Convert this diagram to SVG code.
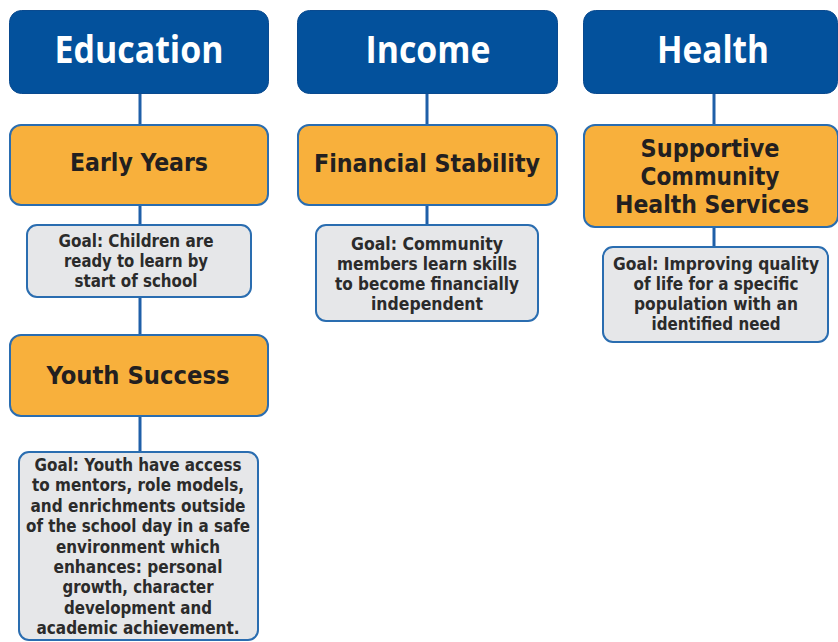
<svg xmlns="http://www.w3.org/2000/svg" width="838" height="642" viewBox="0 0 838 642">
<style>
.hdr{fill:#03519c;stroke:#0a4a8f;stroke-width:1}
.sub{fill:#f8b03c;stroke:#2a6db0;stroke-width:2}
.goal{fill:#e6e7e9;stroke:#2a6db0;stroke-width:2}
.ht{font-family:"Open Sans","Noto Sans",sans-serif;font-weight:700;font-size:37px;fill:#ffffff;text-anchor:middle}
.st{font-family:"DejaVu Sans Condensed","DejaVu Sans",sans-serif;font-weight:700;font-size:24px;fill:#231f20;text-anchor:middle}
.gt{font-family:"DejaVu Sans Condensed","DejaVu Sans",sans-serif;font-weight:700;font-size:17px;fill:#2b2b2b;text-anchor:middle}
.con line{stroke:#1f5fa8;stroke-width:3}
</style>
<rect width="838" height="642" fill="#ffffff"/>
<g id="connectors" class="con">
<line x1="140" y1="93" x2="140" y2="124"/>
<line x1="140" y1="205" x2="140" y2="225"/>
<line x1="140" y1="297" x2="140" y2="334"/>
<line x1="140" y1="416" x2="140" y2="452"/>
<line x1="427" y1="93" x2="427" y2="124"/>
<line x1="427" y1="205" x2="427" y2="225"/>
<line x1="714" y1="93" x2="714" y2="125"/>
<line x1="714" y1="227" x2="714" y2="247"/>
</g>
<g id="education">
<rect class="hdr" x="9.5" y="10.5" width="259" height="83" rx="12"/>
<text class="ht" x="139" y="63" textLength="169" lengthAdjust="spacingAndGlyphs">Education</text>
</g>
<g id="income">
<rect class="hdr" x="297.5" y="10.5" width="260" height="83" rx="12"/>
<text class="ht" x="428" y="63" textLength="125" lengthAdjust="spacingAndGlyphs">Income</text>
</g>
<g id="health">
<rect class="hdr" x="583.5" y="10.5" width="254" height="83" rx="12"/>
<text class="ht" x="713" y="63" textLength="112" lengthAdjust="spacingAndGlyphs">Health</text>
</g>
<g id="early-years">
<rect class="sub" x="10" y="125" width="258" height="80" rx="11"/>
<text class="st" x="139" y="171" textLength="138" lengthAdjust="spacingAndGlyphs">Early Years</text>
</g>
<g id="goal-early-years">
<rect class="goal" x="27" y="225" width="224" height="72" rx="10"/>
<text class="gt" x="136" y="247" textLength="155" lengthAdjust="spacingAndGlyphs">Goal: Children are</text>
<text class="gt" x="136" y="267" textLength="144" lengthAdjust="spacingAndGlyphs">ready to learn by</text>
<text class="gt" x="136" y="287" textLength="123" lengthAdjust="spacingAndGlyphs">start of school</text>
</g>
<g id="youth-success">
<rect class="sub" x="10" y="335" width="258" height="81" rx="11"/>
<text class="st" x="138" y="384" textLength="183" lengthAdjust="spacingAndGlyphs">Youth Success</text>
</g>
<g id="goal-youth-success">
<rect class="goal" x="19" y="452" width="239" height="188" rx="10"/>
<text class="gt" x="138" y="471" textLength="207" lengthAdjust="spacingAndGlyphs">Goal: Youth have access</text>
<text class="gt" x="138" y="491.4" textLength="212" lengthAdjust="spacingAndGlyphs">to mentors, role models,</text>
<text class="gt" x="138" y="511.8" textLength="215" lengthAdjust="spacingAndGlyphs">and enrichments outside</text>
<text class="gt" x="138" y="532.2" textLength="224" lengthAdjust="spacingAndGlyphs">of the school day in a safe</text>
<text class="gt" x="138" y="552.6" textLength="164" lengthAdjust="spacingAndGlyphs">environment which</text>
<text class="gt" x="138" y="573" textLength="169" lengthAdjust="spacingAndGlyphs">enhances: personal</text>
<text class="gt" x="138" y="593.4" textLength="151" lengthAdjust="spacingAndGlyphs">growth, character</text>
<text class="gt" x="138" y="613.8" textLength="148" lengthAdjust="spacingAndGlyphs">development and</text>
<text class="gt" x="138" y="634.2" textLength="203" lengthAdjust="spacingAndGlyphs">academic achievement.</text>
</g>
<g id="financial-stability">
<rect class="sub" x="298" y="125" width="259" height="80" rx="11"/>
<text class="st" x="427" y="172" textLength="226" lengthAdjust="spacingAndGlyphs">Financial Stability</text>
</g>
<g id="goal-financial-stability">
<rect class="goal" x="316" y="225" width="222" height="96" rx="10"/>
<text class="gt" x="427" y="250" textLength="152" lengthAdjust="spacingAndGlyphs">Goal:  Community</text>
<text class="gt" x="427" y="270" textLength="180" lengthAdjust="spacingAndGlyphs">members learn skills</text>
<text class="gt" x="427" y="290" textLength="184" lengthAdjust="spacingAndGlyphs">to become financially</text>
<text class="gt" x="427" y="310" textLength="112" lengthAdjust="spacingAndGlyphs">independent</text>
</g>
<g id="supportive-community-health-services">
<rect class="sub" x="584" y="125" width="254" height="102" rx="11"/>
<text class="st" x="710" y="157" textLength="139" lengthAdjust="spacingAndGlyphs">Supportive</text>
<text class="st" x="710" y="185" textLength="139" lengthAdjust="spacingAndGlyphs">Community</text>
<text class="st" x="712" y="213" textLength="194" lengthAdjust="spacingAndGlyphs">Health Services</text>
</g>
<g id="goal-supportive-community-health-services">
<rect class="goal" x="603" y="247" width="225" height="95" rx="10"/>
<text class="gt" x="716" y="270" textLength="206" lengthAdjust="spacingAndGlyphs">Goal:  Improving quality</text>
<text class="gt" x="716" y="290" textLength="165" lengthAdjust="spacingAndGlyphs">of life for a specific</text>
<text class="gt" x="716" y="310" textLength="164" lengthAdjust="spacingAndGlyphs">population with an</text>
<text class="gt" x="716" y="330" textLength="129" lengthAdjust="spacingAndGlyphs">identified need</text>
</g>
</svg>
